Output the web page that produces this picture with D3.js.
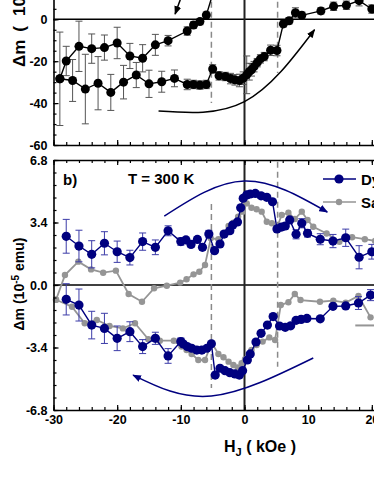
<!DOCTYPE html>
<html lang="en">
<head>
<meta charset="utf-8">
<title>Delta m vs H_J</title>
<script src="https://d3js.org/d3.v7.min.js"></script>
<style>
body { margin: 0; background: #fff; }
svg { display: block; }
svg text { font-family: "Liberation Sans", Arial, sans-serif; font-weight: bold; fill: #000; }
</style>
</head>
<body>
<script>
// ---- top panel (black points with error bars) ----
var topLowH = [-29, -27, -25, -23, -21, -19, -17, -15, -13, -11, -9, -8, -7, -6, -5, -4, -3, -2.2, -1.5, -0.8,
  -0.2, 0.35, 0.75, 1.1, 1.5, 2, 2.5, 3.1, 4.1, 5.1, 6.1, 7, 8, 9, 12, 14, 16, 18, 20];
var topLowV = [-28.4, -29.2, -33.3, -30.5, -34.9, -30, -26.6, -30.8, -29.8, -28.2, -31.1, -31.1, -31.4, -31.1, -23.7, -27, -27.3, -28.3, -28.9, -29.2,
  -28.1, -26.5, -25, -24.1, -22.6, -20.7, -18.9, -17.8, -14.8, -14.9, -2.2, -0.7, 3.1, 1.9, 4.0, 6.2, 6.7, 8.9, 4.9];
var topLowE = [22.3, 10, 16.6, 12.7, 8.6, 8, 6, 6.5, 5, 4, 2.5, 2, 2, 2, 2, 2, 2, 2.5, 2.5, 3,
  3, 9, 4, 3, 2.5, 2, 2, 2, 2.5, 2.5, 1.5, 1.5, 2.4, 1.6, 1.5, 2, 2, 2.5, 2];

var topUpH = [-29, -28, -26, -24, -22, -20, -18, -16, -14, -12, -9, -8, -7, -6, -5];
var topUpV = [-28.4, -19.9, -12.9, -14, -13.5, -11.3, -17.5, -18.6, -12.2, -10.2, -5.6, -2.7, -1.1, 2.0, 12];
var topUpE = [0, 7, 12, 7, 6, 7.5, 6, 6.5, 5, 2.5, 2, 1.5, 1.5, 1.5, 2];

// ---- bottom panel: Dy (navy, with error bars) ----
var dyUpH = [-28, -26, -24, -22, -20, -18, -16, -14, -12, -10, -9.2, -8.4, -7.4, -6.6, -5.6, -4.7, -3.85, -3.2, -2.3, -1.85,
  -1.1, -0.6, -0.2, 0.35, 0.9, 1.7, 2.6, 3.5, 4.4, 5.1, 5.8, 6.4, 7.1, 8.1, 9, 9.9, 11.9, 13.9, 15.9, 18, 20];
var dyUpV = [2.65, 2.12, 1.67, 2.27, 1.81, 1.49, 2.36, 2.05, 2.95, 2.36, 2.45, 2.21, 2.48, 2.05, 2.77, 1.87, 2.23, 2.77, 2.95, 3.26,
  3.43, 4.2, 4.72, 4.9, 4.95, 4.98, 4.85, 4.77, 4.53, 3.05, 3.15, 3.21, 3.54, 2.76, 3.36, 2.81, 2.49, 2.39, 2.57, 1.51, 1.81];
var dyUpE = [0.92, 0.86, 0.74, 0.63, 0.58, 0.4, 0.47, 0.4, 0.27, 0.2, 0.15, 0.15, 0.15, 0.15, 0.2, 0.15, 0.15, 0.15, 0.15, 0.15,
  0.12, 0.12, 0.12, 0.12, 0.12, 0.12, 0.12, 0.12, 0.12, 0.15, 0.15, 0.15, 0.15, 0.25, 0.25, 0.2, 0.3, 0.36, 0.47, 0.63, 0.4];

var dyLowH = [-28, -26, -24, -22, -20, -18, -16, -14, -12, -10, -9.6, -9, -8.3, -7.5, -6.7, -5.9, -5.2, -4.6, -3.85, -3.06,
  -2.3, -1.5, -0.8, -0.3, 0.45, 0.9, 1.8, 2.6, 3.6, 4.5, 5.5, 6.4, 7.25, 8.1, 8.9, 9.8, 11.9, 13.9, 15.9, 17.9, 19.8];
var dyLowV = [-0.78, -1.09, -2.18, -2.36, -2.9, -2.54, -3.35, -2.9, -3.86, -3.08, -3.21, -3.35, -3.44, -3.54, -3.54, -3.44, -3.2, -4.9, -4.53, -4.66,
  -4.77, -4.84, -4.9, -4.66, -4.08, -3.75, -3.1, -2.63, -2.18, -1.72, -2.23, -2.3, -2.22, -1.92, -1.87, -1.82, -1.84, -1.16, -1.14, -0.98, -0.55];
var dyLowE = [0.85, 0.87, 0.75, 0.82, 0.67, 0.54, 0.38, 0.33, 0.4, 0.2, 0.1, 0.1, 0.1, 0.1, 0.1, 0.1, 0.1, 0.1, 0.1, 0.1,
  0.1, 0.1, 0.1, 0.1, 0.1, 0.1, 0.1, 0.1, 0.1, 0.1, 0.1, 0.1, 0.1, 0.1, 0.1, 0.1, 0.1, 0.1, 0.1, 0.35, 0.3];

// ---- bottom panel: Sa (gray, no error bars) ----
var saUpH = [-29.6, -28.2, -26.1, -24.1, -22.2, -20.2, -18.2, -16.1, -14.2, -12.2, -10.1, -9.1, -8, -7.1, -6.2, -5.3, -4.1, -3.3, -2.5, -1.75,
  -1, -0.3, 0.35, 1.1, 1.9, 2.7, 3.5, 4.3, 5.05, 5.85, 6.9, 7.9, 9, 9.9, 10.8, 12.9, 14.9, 16.9, 18.9, 20.5];
var saUpV = [-0.8, 0.54, 1.27, 0.85, 0.67, 0.78, -0.49, -0.91, -0.18, -0.04, 0.13, 0.31, 0.58, 0.72, 1.09, 2.54, 2.49, 2.81, 3.21, 3.39,
  3.72, 3.99, 4.44, 4.2, 4.12, 3.99, 3.44, 3.36, 3.09, 3.81, 3.93, 3.59, 3.99, 3.54, 3.17, 2.8, 2.35, 2.6, 2.49, 2.4];
var saLowH = [-29.6, -27.1, -25.1, -23.2, -21.2, -19.1, -17.2, -15.1, -13.3, -11.1, -9.9, -9.1, -8.3, -7.25, -6.2, -5.15, -4.1, -3.3, -2.5, -1.75,
  -1.07, -0.45, 0.08, 0.6, 1.1, 1.9, 2.85, 3.9, 4.8, 5.7, 6.9, 7.9, 8.8, 11.85, 13.95, 15.9, 17.9, 19.8];
var saLowV = [-0.8, -1.18, -2.08, -1.9, -2.23, -2.36, -2.08, -2.95, -3.03, -3.03, -3.35, -3.54, -3.75, -4.08, -4.08, -3.14, -3.75, -3.93, -4.17, -4.35,
  -4.48, -4.26, -4.04, -3.8, -3.54, -3.26, -3.08, -2.85, -2.99, -1.09, -0.94, -0.49, -0.82, -0.91, -0.85, -0.96, -0.6, -1.76];

// annotations (data units): dashed field markers, curved arrows
var dashH = [-5.2, 5.2];
var topDash = [[80, -40], [80, -25.6]];
var botDash = [[4.4, -5.6], [6.7, -4.45]];
var topArrow = [[-13.5, -43.8], [0, -39.3], [11, -5]];
var topArrow2 = [[-9.3, 16], [-10.9, 2.5]];
var upArc = [[-12.6, 3.75], [0, 5.66], [13, 3.97]];
var lowArc = [[10.8, -3.97], [-5.2, -6.04], [-17.5, -4.9]];
var extraGray = [[17.4, -2.2], [22, -2.2]];

var navy = "#00007f", navyErr = "#3c3ca8", gray = "#959595";

var W = 374, H = 484;
var svg = d3.select("body").append("svg").attr("width", W).attr("height", H);

var x = d3.scaleLinear().domain([-30, 30]).range([53.5, 435.5]);
var yT = d3.scaleLinear().domain([-60, 80]).range([145, -148.3]);
var yB = d3.scaleLinear().domain([-6.8, 6.8]).range([410, 160]);

var defs = svg.append("defs");
function marker(id, col) {
	defs.append("marker").attr("id", id)
		.attr("viewBox", "0 0 10 8").attr("refX", 9).attr("refY", 4)
		.attr("markerWidth", 9).attr("markerHeight", 7)
		.attr("markerUnits", "userSpaceOnUse").attr("orient", "auto")
		.append("path").attr("d", "M0,0L10,4L0,8z").attr("fill", col);
}
marker("arrBlack", "#000");
marker("arrNavy", navy);

function styleAxis(g, fs) {
	g.attr("font-size", fs).attr("font-family", null);
	g.select(".domain").attr("stroke-width", 1.6);
	g.selectAll(".tick line").attr("stroke-width", 1.2);
}
function noDomain(g) { g.select(".domain").remove(); }

var majorX = [-30, -20, -10, 0, 10, 20, 30];
var minorX = d3.range(-30, 31, 2);

// ===== top panel =====
var gt = svg.append("g");
gt.append("line").attr("x1", x(-30)).attr("x2", x(30)).attr("y1", yT(0)).attr("y2", yT(0))
	.attr("stroke", "#000").attr("stroke-width", 1.4);
gt.append("line").attr("x1", x(0)).attr("x2", x(0)).attr("y1", yT(80)).attr("y2", yT(-60))
	.attr("stroke", "#222").attr("stroke-width", 2);

dashH.forEach(function(h, i) {
	gt.append("line").attr("x1", x(h)).attr("x2", x(h))
		.attr("y1", yT(topDash[i][0])).attr("y2", yT(topDash[i][1]))
		.attr("stroke", "#8a8a8a").attr("stroke-width", 1.5).attr("stroke-dasharray", "6,4");
});

var lineT = d3.line().x(function(d) { return x(d[0]); }).y(function(d) { return yT(d[1]); });
gt.append("path").attr("d", lineT.curve(d3.curveNatural)(topArrow))
	.attr("fill", "none").attr("stroke", "#000").attr("stroke-width", 1.5).attr("marker-end", "url(#arrBlack)");
gt.append("path").attr("d", d3.line().x(function(d) { return x(d[0]); }).y(function(d) { return yT(d[1]); })(topArrow2))
	.attr("fill", "none").attr("stroke", "#000").attr("stroke-width", 1.5).attr("marker-end", "url(#arrBlack)");

function drawSeries(g, xs, ys, es, yScale, col, errCol, r, lw) {
	var pts = xs.map(function(h, i) { return { h: h, v: ys[i], e: es ? es[i] : 0 }; });
	if (es) {
		var eb = g.append("g").attr("stroke", errCol).attr("stroke-width", 1);
		pts.filter(function(d) { return d.e > 0; }).forEach(function(d) {
			var cx = x(d.h), y1 = yScale(d.v + d.e), y2 = yScale(d.v - d.e);
			eb.append("line").attr("x1", cx).attr("x2", cx).attr("y1", y1).attr("y2", y2);
			eb.append("line").attr("x1", cx - 3.5).attr("x2", cx + 3.5).attr("y1", y1).attr("y2", y1);
			eb.append("line").attr("x1", cx - 3.5).attr("x2", cx + 3.5).attr("y1", y2).attr("y2", y2);
		});
	}
	g.append("path").datum(pts)
		.attr("d", d3.line().x(function(d) { return x(d.h); }).y(function(d) { return yScale(d.v); }))
		.attr("fill", "none").attr("stroke", col).attr("stroke-width", lw);
	g.append("g").selectAll("circle").data(pts).enter().append("circle")
		.attr("cx", function(d) { return x(d.h); })
		.attr("cy", function(d) { return yScale(d.v); })
		.attr("r", r).attr("fill", col);
}

drawSeries(gt, topLowH, topLowV, topLowE, yT, "#000", "#555", 4.5, 1.4);
drawSeries(gt, topUpH, topUpV, topUpE, yT, "#000", "#555", 4.5, 1.4);

gt.append("g").attr("transform", "translate(0," + yT(-60) + ")")
	.call(d3.axisBottom(x).tickValues(minorX).tickSize(-3).tickSizeOuter(0).tickFormat(""))
	.call(noDomain).call(styleAxis, 12);
gt.append("g").attr("transform", "translate(0," + yT(-60) + ")")
	.call(d3.axisBottom(x).tickValues(majorX).tickSize(-5).tickSizeOuter(0).tickFormat(""))
	.call(styleAxis, 12);
gt.append("g").attr("transform", "translate(" + x(-30) + ",0)")
	.call(d3.axisLeft(yT).tickValues(d3.range(-60, 81, 5)).tickSize(-3).tickSizeOuter(0).tickFormat(""))
	.call(noDomain).call(styleAxis, 12);
gt.append("g").attr("transform", "translate(" + x(-30) + ",0)")
	.call(d3.axisLeft(yT).tickValues([-60, -40, -20, 0, 20, 40, 60, 80]).tickSize(-5).tickSizeOuter(0).tickPadding(6)
		.tickFormat(function(d) { return String(d); }))
	.call(styleAxis, 12.5);

var tl = gt.append("text").attr("transform", "translate(25,67) rotate(-90)")
	.attr("text-anchor", "start").attr("font-size", 17);
tl.append("tspan").text("\u0394m");
tl.append("tspan").attr("dx", 8).text("(");
tl.append("tspan").attr("dx", 10).text("10");
tl.append("tspan").attr("font-size", 12).attr("dy", -6).text("-5");
tl.append("tspan").attr("dy", 6).text(" emu )");

// ===== bottom panel =====
var gb = svg.append("g");
gb.append("line").attr("x1", x(-30)).attr("x2", x(30)).attr("y1", yB(0)).attr("y2", yB(0))
	.attr("stroke", "#000").attr("stroke-width", 1.4);
gb.append("line").attr("x1", x(0)).attr("x2", x(0)).attr("y1", yB(6.8)).attr("y2", yB(-6.8))
	.attr("stroke", "#222").attr("stroke-width", 2);

dashH.forEach(function(h, i) {
	gb.append("line").attr("x1", x(h)).attr("x2", x(h))
		.attr("y1", yB(botDash[i][0])).attr("y2", yB(botDash[i][1]))
		.attr("stroke", "#8a8a8a").attr("stroke-width", 1.5).attr("stroke-dasharray", "6,4");
});

var lineB = d3.line().x(function(d) { return x(d[0]); }).y(function(d) { return yB(d[1]); }).curve(d3.curveNatural);
gb.append("path").attr("d", lineB(upArc)).attr("fill", "none").attr("stroke", navy)
	.attr("stroke-width", 1.5).attr("marker-end", "url(#arrNavy)");
gb.append("path").attr("d", lineB(lowArc)).attr("fill", "none").attr("stroke", navy)
	.attr("stroke-width", 1.5).attr("marker-end", "url(#arrNavy)");

drawSeries(gb, saUpH, saUpV, null, yB, gray, gray, 3.2, 1.8);
drawSeries(gb, saLowH, saLowV, null, yB, gray, gray, 3.2, 1.8);
drawSeries(gb, dyUpH, dyUpV, dyUpE, yB, navy, navyErr, 4.6, 1.4);
drawSeries(gb, dyLowH, dyLowV, dyLowE, yB, navy, navyErr, 4.6, 1.4);

gb.append("path").attr("d", d3.line().x(function(d) { return x(d[0]); }).y(function(d) { return yB(d[1]); })(extraGray))
	.attr("stroke", gray).attr("stroke-width", 2).attr("fill", "none");

// axes
gb.append("g").attr("transform", "translate(0," + yB(-6.8) + ")")
	.call(d3.axisBottom(x).tickValues(minorX).tickSize(-3).tickSizeOuter(0).tickFormat(""))
	.call(noDomain).call(styleAxis, 12);
gb.append("g").attr("transform", "translate(0," + yB(-6.8) + ")")
	.call(d3.axisBottom(x).tickValues(majorX).tickSize(-5).tickSizeOuter(0).tickPadding(5)
		.tickFormat(function(d) { return String(d); }))
	.call(styleAxis, 12.5);
gb.append("g").attr("transform", "translate(0," + yB(6.8) + ")")
	.call(d3.axisTop(x).tickValues(minorX).tickSize(-3).tickSizeOuter(0).tickFormat(""))
	.call(noDomain).call(styleAxis, 12);
gb.append("g").attr("transform", "translate(0," + yB(6.8) + ")")
	.call(d3.axisTop(x).tickValues(majorX).tickSize(-5).tickSizeOuter(0).tickFormat(""))
	.call(styleAxis, 12);
gb.append("g").attr("transform", "translate(" + x(-30) + ",0)")
	.call(d3.axisLeft(yB).tickValues(d3.range(-10, 11).map(function(i) { return i * 0.68; })).tickSize(-3).tickSizeOuter(0).tickFormat(""))
	.call(noDomain).call(styleAxis, 12);
gb.append("g").attr("transform", "translate(" + x(-30) + ",0)")
	.call(d3.axisLeft(yB).tickValues([-6.8, -3.4, 0, 3.4, 6.8]).tickSize(-5).tickSizeOuter(0).tickPadding(6)
		.tickFormat(function(d) { return d.toFixed(1); }))
	.call(styleAxis, 12.5);

// texts
gb.append("text").attr("x", 63).attr("y", 185).attr("font-size", 15).text("b)");
gb.append("text").attr("x", 128).attr("y", 184).attr("font-size", 15).text("T = 300 K");

var bl = gb.append("text").attr("transform", "translate(24,284) rotate(-90)")
	.attr("text-anchor", "middle").attr("font-size", 14);
bl.append("tspan").text("\u0394m (10");
bl.append("tspan").attr("font-size", 10).attr("dy", -5).text("-5");
bl.append("tspan").attr("dy", 5).text(" emu)");

var xl = svg.append("text").attr("x", 260).attr("y", 452).attr("text-anchor", "middle").attr("font-size", 16);
xl.append("tspan").text("H");
xl.append("tspan").attr("font-size", 11).attr("dy", 4).text("J");
xl.append("tspan").attr("dy", -4).text(" ( kOe )");

// legend
var legend = [{ name: "Dy", col: navy, r: 4.6, y: 179 }, { name: "Sa", col: gray, r: 3.2, y: 202 }];
legend.forEach(function(d) {
	gb.append("line").attr("x1", 323).attr("x2", 356).attr("y1", d.y).attr("y2", d.y)
		.attr("stroke", d.col).attr("stroke-width", 1.6);
	gb.append("circle").attr("cx", 339).attr("cy", d.y).attr("r", d.r).attr("fill", d.col);
	gb.append("text").attr("x", 361).attr("y", d.y + 5.5).attr("font-size", 15).text(d.name);
});
</script>
</body>
</html>
